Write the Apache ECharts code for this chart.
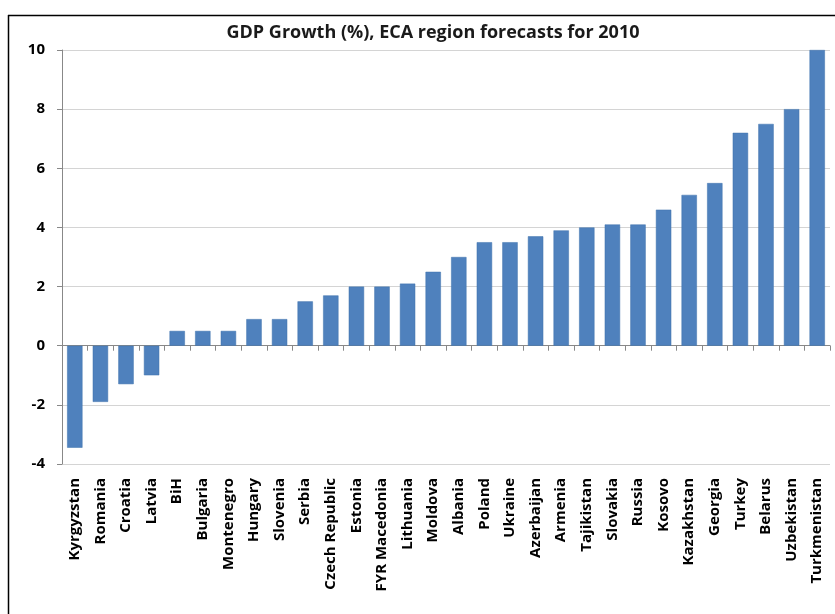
<!DOCTYPE html>
<html><head><meta charset="utf-8">
<script src="https://cdn.jsdelivr.net/npm/echarts@6/dist/echarts.min.js"></script>
<style>html,body{margin:0;padding:0;background:#fff}#c{width:835px;height:614px}</style>
</head><body><div id="c"></div>
<script>
const categories = ["Kyrgyzstan","Romania","Croatia","Latvia","BiH","Bulgaria","Montenegro","Hungary","Slovenia","Serbia","Czech Republic","Estonia","FYR Macedonia","Lithuania","Moldova","Albania","Poland","Ukraine","Azerbaijan","Armenia","Tajikistan","Slovakia","Russia","Kosovo","Kazakhstan","Georgia","Turkey","Belarus","Uzbekistan","Turkmenistan"];
const growth = [-3.45,-1.9,-1.3,-1.0,0.5,0.5,0.5,0.9,0.9,1.5,1.7,2.0,2.0,2.1,2.5,3.0,3.5,3.5,3.7,3.9,4.0,4.1,4.1,4.6,5.1,5.5,7.2,7.5,8.0,10.0];
const titleText = "GDP Growth (%), ECA region forecasts for 2010";

const chart = echarts.init(document.getElementById('c'));
const font = "'Open Sans', 'Liberation Sans', sans-serif";
chart.setOption({
  animation: false,
  title: {
    text: titleText, left: 428, top: 19, textAlign: 'center',
    textStyle: {fontFamily: font, fontWeight: 'bold', fontSize: 18, color: '#1a1a1a'}
  },
  graphic: [
    {type: 'line', shape: {x1: 8.5, y1: 15, x2: 8.5, y2: 614}, style: {stroke: '#000', lineWidth: 1.5}},
    {type: 'line', shape: {x1: 8, y1: 15.5, x2: 835, y2: 15.5}, style: {stroke: '#000', lineWidth: 1.5}}
  ],
  grid: {left: 62, right: 5, top: 50, bottom: 150, containLabel: false, outerBoundsMode: 'none'},
  xAxis: {
    type: 'category', data: categories,
    axisLine: {onZero: true, lineStyle: {color: '#888'}},
    axisTick: {show: true, length: 5, lineStyle: {color: '#888'}},
    axisLabel: {
      interval: 0, rotate: 90, fontFamily: font, fontWeight: 'bold', fontSize: 15, color: '#000',
      margin: 14
    }
  },
  yAxis: {
    type: 'value', min: -4, max: 10, interval: 2,
    axisLine: {show: true, lineStyle: {color: '#888'}},
    axisTick: {show: true, length: 5, lineStyle: {color: '#888'}},
    splitLine: {lineStyle: {color: '#d4d4d4'}},
    axisLabel: {fontFamily: font, fontWeight: 'bold', fontSize: 15, color: '#000', margin: 17}
  },
  series: [{
    type: 'bar', data: growth, barCategoryGap: '40%',
    itemStyle: {color: '#4F81BD', borderColor: '#3f72ad', borderWidth: 0.5}
  }]
});
</script></body></html>
